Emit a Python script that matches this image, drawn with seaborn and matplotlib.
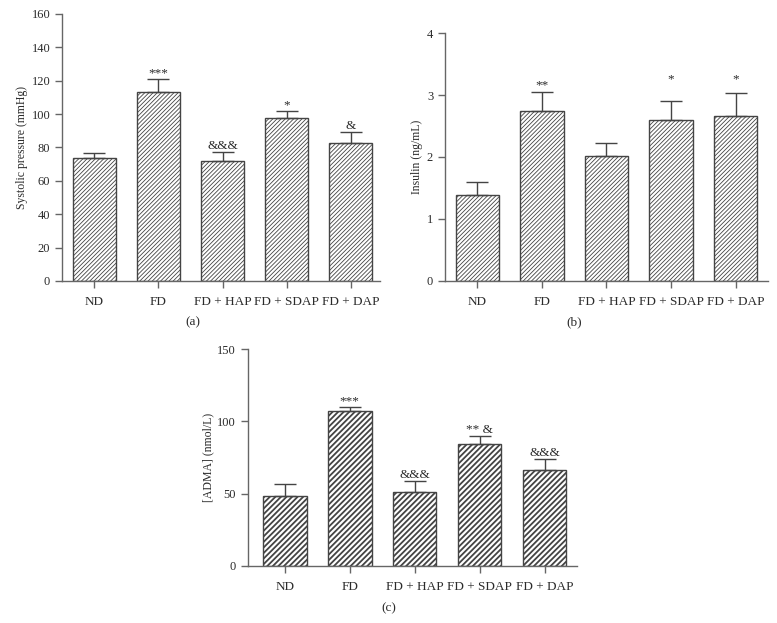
import matplotlib
matplotlib.use("Agg")
import matplotlib.pyplot as plt
import seaborn as sns
import pandas as pd
import numpy as np

groups = ["ND", "FD", "FD + HAP", "FD + SDAP", "FD + DAP"]

sbp_mean = [73.5, 113.0, 72.0, 97.5, 82.5]
sbp_err = [3.0, 8.0, 5.5, 4.5, 7.0]
sbp_marks = ["", "***", "&&&", "*", "&"]

ins_mean = [1.38, 2.75, 2.01, 2.60, 2.66]
ins_err = [0.21, 0.30, 0.22, 0.31, 0.38]
ins_marks = ["", "**", "", "*", "*"]
ins_mark_y = [None, 3.1, None, 3.21, 3.21]

adma_mean = [48.5, 107.0, 51.0, 84.0, 66.5]
adma_err = [8.0, 3.0, 8.0, 6.0, 7.5]
adma_marks = ["", "***", "&&&", "** &", "&&&"]

sns.set_theme(style="ticks")
plt.rcParams["font.family"] = ["Liberation Serif", "DejaVu Serif"]

TXT = "#2b2b2b"
SP = "#666666"

fig = plt.figure(figsize=(7.77, 6.23), dpi=100)

def panel(rect, means, errs, marks, ylabel, yticks, ylim, xlim, hatch, label, label_xy,
          mark_y=None, hlw=0.7, hcol="#666666"):
    ax = fig.add_axes(rect)
    df = pd.DataFrame({"group": groups, "value": means})
    plt.rcParams["hatch.linewidth"] = hlw
    plt.rcParams["hatch.color"] = hcol
    sns.barplot(data=df, x="group", y="value", ax=ax, color="white",
                edgecolor="#444444", linewidth=1.0, width=0.67, errorbar=None)
    for p in ax.patches:
        p.set_hatch(hatch)
    x = np.arange(len(groups))
    ax.errorbar(x, means, yerr=[np.zeros(len(errs)), errs], fmt="none",
                ecolor="#444444", elinewidth=1.0, capsize=8, capthick=1.0)
    ax.set_xlim(*xlim)
    ax.set_ylim(*ylim)
    for i, m in enumerate(marks):
        if m:
            if mark_y is not None:
                ax.text(i, mark_y[i], m, ha="center", va="baseline", fontsize=9.5, color=TXT)
            else:
                ax.annotate(m, (i, means[i] + errs[i]), xytext=(0, 2), textcoords="offset points",
                            ha="center", va="baseline", fontsize=9.5, color=TXT)
    ax.set_yticks(yticks)
    ax.set_xlabel("")
    ax.set_ylabel(ylabel, fontsize=8.5, color=TXT, labelpad=2.5)
    ax.tick_params(axis="both", colors=SP, labelcolor=TXT, length=5, width=1.0)
    ax.tick_params(axis="x", labelsize=9.5, pad=6)
    ax.tick_params(axis="y", labelsize=9)
    for s in ["top", "right"]:
        ax.spines[s].set_visible(False)
    for s in ["left", "bottom"]:
        ax.spines[s].set_color(SP)
        ax.spines[s].set_linewidth(1.0)
    fig.text(label_xy[0], label_xy[1], label, ha="center", va="center", fontsize=9.5, color=TXT)
    return ax

panel([0.0798, 0.549, 0.409, 0.4286], sbp_mean, sbp_err, sbp_marks,
      "Systolic pressure (mmHg)", [0, 20, 40, 60, 80, 100, 120, 140, 160], (0, 160),
      (-0.5, 4.45), "////////", "(a)", (193 / 777, 1 - 322 / 623), hlw=0.6, hcol="#777777")

panel([0.5727, 0.549, 0.4157, 0.398], ins_mean, ins_err, ins_marks,
      "Insulin (ng/mL)", [0, 1, 2, 3, 4], (0, 4),
      (-0.5, 4.5), "////////", "(b)", (574 / 777, 1 - 322 / 623), mark_y=ins_mark_y,
      hlw=0.6, hcol="#777777")

panel([0.319, 0.0915, 0.4236, 0.3483], adma_mean, adma_err, adma_marks,
      "[ADMA] (nmol/L)", [0, 50, 100, 150], (0, 150),
      (-0.57, 4.5), "//////", "(c)", (389 / 777, 1 - 608 / 623), hlw=1.3, hcol="#333333")

fig.savefig("out.png", dpi=100)
